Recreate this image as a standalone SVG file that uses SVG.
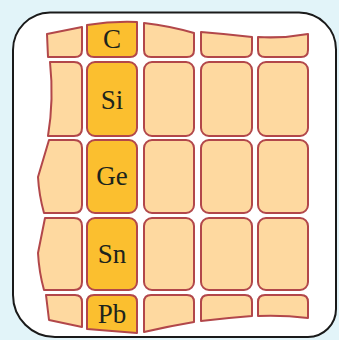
<svg xmlns="http://www.w3.org/2000/svg" width="339" height="340" viewBox="0 0 339 340">
<style>
.bg{fill:#e2f4f9}
.frame{fill:#ffffff;stroke:#1a1a1a;stroke-width:2}
.c{fill:#fed9a0;stroke:#b2474a;stroke-width:2;stroke-linejoin:round}
.h{fill:#fbbf2f;stroke:#b2474a;stroke-width:2;stroke-linejoin:round}
.t{font-family:"Liberation Serif","Times New Roman",serif;font-size:27px;fill:#1c241c;text-anchor:middle}
</style>
<rect class="bg" x="0" y="0" width="339" height="340"/>
<path class="frame" d="M50,12.5 H299 A37,37 0 0 1 336,49.5 V309 A28,28 0 0 1 308,337 H55 A42,42 0 0 1 13,295 V50 A37.5,37.5 0 0 1 50,12.5 Z"/>
<g id="row-top">
<path id="c1r0" class="c" d="M47,34 L82,27 L82,50 Q82,57 75,57 L48,57 Z"/>
<g id="C"><path class="h" d="M87,25 Q112,21 137,22 L137,50 Q137,57 130,57 L94,57 Q87,57 87,50 Z"/><text class="t" x="112" y="48">C</text></g>
<path id="c3r0" class="c" d="M144,23 Q170,26 194,33 L194,50 Q194,57 187,57 L151,57 Q144,57 144,50 Z"/>
<path id="c4r0" class="c" d="M201,32 Q226,34 252,37 L252,50 Q252,57 245,57 L208,57 Q201,57 201,50 Z"/>
<path id="c5r0" class="c" d="M258,37 Q283,38.5 308,34 L308,50 Q308,57 301,57 L265,57 Q258,57 258,50 Z"/>
</g>
<g id="row-si">
<path id="c1r1" class="c" d="M50,62 L74,62 Q82,62 82,70 L82,128 Q82,136 74,136 L48,136 Q54,100 50,62 Z"/>
<g id="Si"><rect class="h" x="87" y="62" width="50" height="74" rx="8"/><text class="t" x="112" y="109">Si</text></g>
<rect id="c3r1" class="c" x="144" y="62" width="50" height="74" rx="8"/>
<rect id="c4r1" class="c" x="201" y="62" width="51" height="74" rx="8"/>
<rect id="c5r1" class="c" x="258" y="62" width="50" height="74" rx="8"/>
</g>
<g id="row-ge">
<path id="c1r2" class="c" d="M49,140 L74,140 Q82,140 82,148 L82,205 Q82,213 74,213 L44,213 Q39,195 38,177 Z"/>
<g id="Ge"><rect class="h" x="87" y="140" width="50" height="73" rx="8"/><text class="t" x="112" y="185">Ge</text></g>
<rect id="c3r2" class="c" x="144" y="140" width="50" height="73" rx="8"/>
<rect id="c4r2" class="c" x="201" y="140" width="51" height="73" rx="8"/>
<rect id="c5r2" class="c" x="258" y="140" width="50" height="73" rx="8"/>
</g>
<g id="row-sn">
<path id="c1r3" class="c" d="M45,218 L74,218 Q82,218 82,226 L82,282 Q82,290 74,290 L44,290 Q39,272 38,253 Z"/>
<g id="Sn"><rect class="h" x="87" y="218" width="50" height="72" rx="8"/><text class="t" x="112" y="263">Sn</text></g>
<rect id="c3r3" class="c" x="144" y="218" width="50" height="72" rx="8"/>
<rect id="c4r3" class="c" x="201" y="218" width="51" height="72" rx="8"/>
<rect id="c5r3" class="c" x="258" y="218" width="50" height="72" rx="8"/>
</g>
<g id="row-pb">
<path id="c1r4" class="c" d="M46,295 L75,295 Q82,295 82,302 L82,327 L49,320 Z"/>
<g id="Pb"><path class="h" d="M94,295 L130,295 Q137,295 137,302 L137,333 Q112,331 87,329 L87,302 Q87,295 94,295 Z"/><text class="t" x="112" y="323">Pb</text></g>
<path id="c3r4" class="c" d="M151,295 L187,295 Q194,295 194,302 L194,322 Q170,326 144,332 L144,302 Q144,295 151,295 Z"/>
<path id="c4r4" class="c" d="M208,295 L245,295 Q252,295 252,302 L252,316 Q226,318 201,321 L201,302 Q201,295 208,295 Z"/>
<path id="c5r4" class="c" d="M265,295 L301,295 Q308,295 308,302 L308,318 Q283,315 258,316 L258,302 Q258,295 265,295 Z"/>
</g>
</svg>
